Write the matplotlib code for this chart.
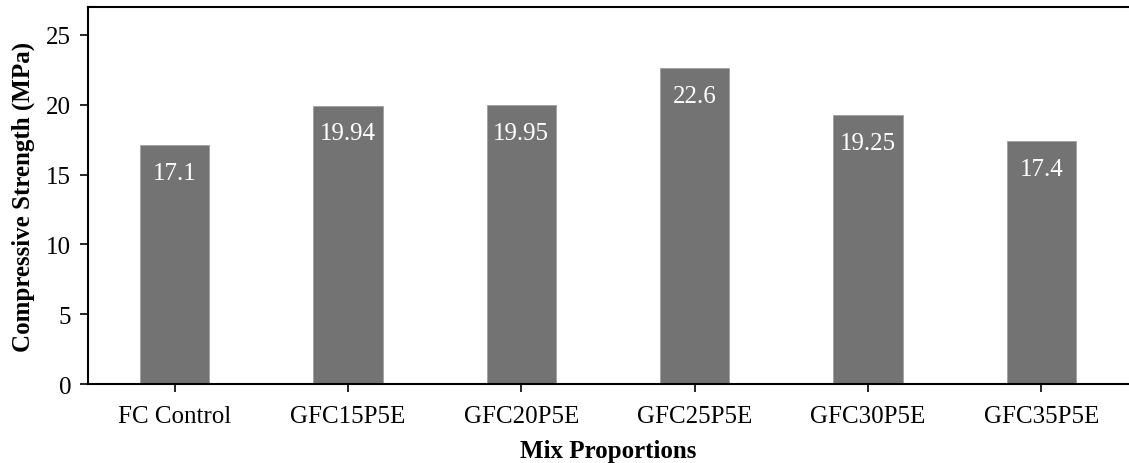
import matplotlib
matplotlib.use("Agg")
import matplotlib.pyplot as plt

mixes = ["FC Control", "GFC15P5E", "GFC20P5E", "GFC25P5E", "GFC30P5E", "GFC35P5E"]
strength = [17.1, 19.94, 19.95, 22.6, 19.25, 17.4]
value_labels = ["17.1", "19.94", "19.95", "22.6", "19.25", "17.4"]
yticks = [0, 5, 10, 15, 20, 25]

plt.rcParams["font.family"] = ["Liberation Serif", "DejaVu Serif"]

fig = plt.figure(figsize=(11.29, 4.64), dpi=100)
ax = fig.add_axes([88 / 1129, 1 - 385 / 464, 1040 / 1129, 377 / 464])

x = list(range(len(mixes)))
bars = ax.bar(x, strength, width=0.4, color="#737373", edgecolor="#a0a0a0", linewidth=0.6)

for rect, txt in zip(bars, value_labels):
    ax.annotate(txt, (rect.get_x() + rect.get_width() / 2, rect.get_height()),
                xytext=(0, -12), textcoords="offset points",
                ha="center", va="top", color="white", fontsize=18)

ax.set_xlim(-0.5, len(mixes) - 0.5)
ax.set_ylim(0, 27)
ax.set_yticks(yticks)
ax.set_xticks(x)
ax.set_xticklabels(mixes)
ax.tick_params(axis="both", labelsize=18, direction="out", length=6, width=1.2, colors="black")
ax.tick_params(axis="y", pad=6)
ax.tick_params(axis="x", pad=9)

ax.spines["right"].set_visible(False)
for side in ["left", "bottom", "top"]:
    ax.spines[side].set_linewidth(1.5)

ax.set_xlabel("Mix Proportions", fontsize=18, fontweight="bold", labelpad=9)
ax.set_ylabel("Compressive Strength (MPa)", fontsize=18, fontweight="bold", labelpad=8)

fig.savefig("out.png", dpi=100)
plt.close(fig)
